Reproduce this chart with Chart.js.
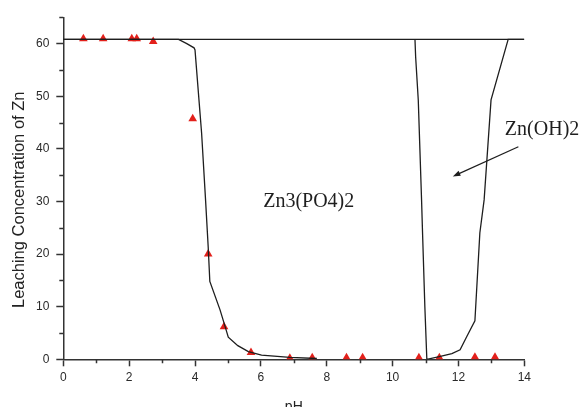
<!DOCTYPE html>
<html>
<head>
<meta charset="utf-8">
<script src="https://cdn.jsdelivr.net/npm/chart.js@4.4.1/dist/chart.umd.min.js"></script>
<style>
  html, body { margin: 0; padding: 0; background: #fff; overflow: hidden; }
  #wrap { width: 582px; height: 407px; }
</style>
</head>
<body>
<div id="wrap"><canvas id="leaching" width="582" height="407"></canvas></div>
<script>
// Tick labels.
var xTicks = [0, 2, 4, 6, 8, 10, 12, 14];
var yTicks = [0, 10, 20, 30, 40, 50, 60];
var xMinorTicks = [1, 3, 5, 7, 9, 11, 13];
var yMinorTicks = [5, 15, 25, 35, 45, 55, 65];

// Upper boundary line.
var topLineX = [0, 14];
var topLineY = [60.8, 60.8];

// Zn3(PO4)2 curve.
var po4X = [0, 3.5, 3.75, 3.97, 4.0, 4.12, 4.2, 4.32, 4.40, 4.45, 4.76, 4.91, 5.01, 5.3, 5.62, 6.02, 6.88, 7.7];
var po4Y = [60.8, 60.8, 60.0, 59.2, 58.8, 49.3, 43, 30.3, 21.4, 14.8, 9.4, 6.3, 4.2, 2.6, 1.45, 0.8, 0.35, 0.15];

// Zn(OH)2 curve.
var ohX = [10.68, 10.70, 10.78, 10.83, 10.88, 10.91, 10.98, 11.04, 11.42, 11.8, 12.05, 12.25, 12.5, 12.65, 12.78, 12.99, 13.51, 14];
var ohY = [60.8, 57.5, 49.3, 39.8, 30.3, 24, 10, 0, 0.5, 1.1, 1.8, 4.3, 7.3, 24, 30.3, 49.3, 60.8, 60.8];

// Measured points (red triangles).
var measuredX = [0.61, 1.21, 2.08, 2.23, 2.73, 3.93, 4.40, 4.88, 5.70, 6.88, 7.56, 8.60, 9.09, 10.80, 11.42, 12.50, 13.11];
var measuredY = [60.9, 60.9, 60.9, 60.9, 60.4, 45.7, 20.0, 6.2, 1.3, 0.2, 0.3, 0.3, 0.3, 0.3, 0.3, 0.4, 0.4];

// Labels and arrow (data coordinates).
var po4Label = { text: "Zn3(PO4)2", x: 6.07, y: 30.0 };
var ohLabel = { text: "Zn(OH)2", x: 13.41, y: 43.6 };
var arrowFrom = { x: 13.82, y: 40.4 };
var arrowTo = { x: 11.83, y: 34.75 };

function toPoints(xs, ys) {
  return xs.map(function (x, i) { return { x: x, y: ys[i] }; });
}

var inkColor = "#1e1e1e";
var axisColor = "#333333";

// Draws minor ticks, the text labels and the arrow.
var extras = {
  id: "extras",
  afterDraw: function (chart) {
    var ctx = chart.ctx;
    var xs = chart.scales.x;
    var ys = chart.scales.y;
    ctx.save();
    ctx.strokeStyle = axisColor;
    ctx.lineWidth = 1.5;
    ctx.beginPath();
    xMinorTicks.forEach(function (v) {
      var px = Math.round(xs.getPixelForValue(v)) + 0.5;
      ctx.moveTo(px, ys.bottom);
      ctx.lineTo(px, ys.bottom + 4);
    });
    yMinorTicks.forEach(function (v) {
      var py = Math.round(ys.getPixelForValue(v)) + 0.5;
      ctx.moveTo(xs.left, py);
      ctx.lineTo(xs.left - 4, py);
    });
    ctx.stroke();

    ctx.fillStyle = inkColor;
    ctx.font = '20px "Liberation Serif"';
    ctx.textBaseline = "middle";
    ctx.textAlign = "left";
    [po4Label, ohLabel].forEach(function (l) {
      ctx.fillText(l.text, xs.getPixelForValue(l.x), ys.getPixelForValue(l.y));
    });

    // Arrow.
    var x1 = xs.getPixelForValue(arrowFrom.x), y1 = ys.getPixelForValue(arrowFrom.y);
    var x2 = xs.getPixelForValue(arrowTo.x), y2 = ys.getPixelForValue(arrowTo.y);
    var ang = Math.atan2(y2 - y1, x2 - x1);
    ctx.strokeStyle = inkColor;
    ctx.lineWidth = 1.2;
    ctx.beginPath();
    ctx.moveTo(x1, y1);
    ctx.lineTo(x2 - 5 * Math.cos(ang), y2 - 5 * Math.sin(ang));
    ctx.stroke();
    ctx.beginPath();
    ctx.moveTo(x2, y2);
    ctx.lineTo(x2 - 8 * Math.cos(ang - 0.35), y2 - 8 * Math.sin(ang - 0.35));
    ctx.lineTo(x2 - 8 * Math.cos(ang + 0.35), y2 - 8 * Math.sin(ang + 0.35));
    ctx.closePath();
    ctx.fill();
    ctx.restore();
  }
};

var lineStyle = {
  showLine: true,
  borderColor: inkColor,
  borderWidth: 1.3,
  pointRadius: 0,
  tension: 0,
  fill: false
};

var ctx = document.getElementById("leaching").getContext("2d");
var chart = new Chart(ctx, {
  type: "scatter",
  data: {
    datasets: [
      Object.assign({ label: "top", data: toPoints(topLineX, topLineY) }, lineStyle),
      Object.assign({ label: "Zn3(PO4)2", data: toPoints(po4X, po4Y) }, lineStyle),
      Object.assign({ label: "Zn(OH)2", data: toPoints(ohX, ohY) }, lineStyle),
      {
        label: "measured",
        data: toPoints(measuredX, measuredY),
        showLine: false,
        pointStyle: "triangle",
        pointRadius: 5,
        pointBackgroundColor: "#e3201b",
        pointBorderColor: "#e3201b",
        pointBorderWidth: 0
      }
    ]
  },
  options: {
    responsive: false,
    animation: false,
    devicePixelRatio: 1,
    layout: { padding: { left: 0, right: 57.7, top: 17.3, bottom: 0 } },
    plugins: {
      legend: { display: false },
      tooltip: { enabled: false }
    },
    scales: {
      x: {
        type: "linear",
        min: 0,
        max: 14,
        afterBuildTicks: function (axis) {
          axis.ticks = xTicks.map(function (v) { return { value: v }; });
        },
        afterFit: function (axis) { axis.height = 47.7; },
        border: { display: true, color: axisColor, width: 1.5 },
        grid: { drawOnChartArea: false, drawTicks: true, tickLength: 7, tickColor: axisColor, tickWidth: 1.5 },
        ticks: {
          padding: 4,
          color: "#2a2a2a",
          maxRotation: 0,
          font: { family: '"Liberation Sans", Arial, sans-serif', size: 12 }
        },
        title: {
          display: true,
          text: "pH",
          color: "#222",
          padding: 0,
          font: { family: '"Liberation Sans", Arial, sans-serif', size: 14, lineHeight: 0.01 }
        }
      },
      y: {
        type: "linear",
        min: 0,
        max: 65,
        afterBuildTicks: function (axis) {
          axis.ticks = yTicks.map(function (v) { return { value: v }; });
        },
        afterFit: function (axis) { axis.width = 63.3; },
        border: { display: true, color: axisColor, width: 1.5 },
        grid: { drawOnChartArea: false, drawTicks: true, tickLength: 7, tickColor: axisColor, tickWidth: 1.5 },
        ticks: {
          padding: 7,
          color: "#2a2a2a",
          font: { family: '"Liberation Sans", Arial, sans-serif', size: 12 }
        },
        title: {
          display: true,
          text: "Leaching Concentration of Zn     ",
          color: "#222",
          padding: { top: 10.75, bottom: 0 },
          font: { family: '"Liberation Sans", Arial, sans-serif', size: 16.5, lineHeight: 1 }
        }
      }
    }
  },
  plugins: [extras]
});
</script>
</body>
</html>
